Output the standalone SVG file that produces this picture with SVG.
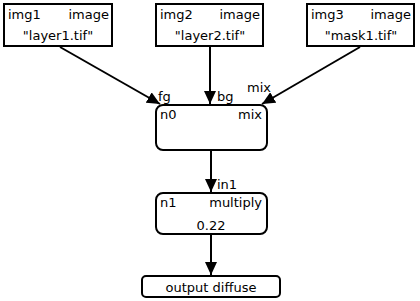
<svg xmlns="http://www.w3.org/2000/svg" width="420" height="301" viewBox="0 0 420 301">
  <style>
    .box { fill: #ffffff; stroke: #000000; stroke-width: 2; }
    .t { font-family: "DejaVu Sans", "Liberation Sans", sans-serif; font-size: 13px; fill: #000000; }
    .mid { text-anchor: middle; }
    .end { text-anchor: end; }
    .edge { stroke: #000000; stroke-width: 2; fill: none; marker-end: url(#arrow); }
  </style>
  <defs>
    <marker id="arrow" markerUnits="userSpaceOnUse" markerWidth="14" markerHeight="12" refX="13" refY="6" orient="auto">
      <path d="M0,0 L13,6 L0,12 Z" fill="#000000"/>
    </marker>
  </defs>
  <rect width="420" height="301" fill="#ffffff"/>

  <g id="connectors">
    <line class="edge" x1="60" y1="47" x2="160" y2="104"/>
    <line class="edge" x1="210" y1="47" x2="210" y2="104"/>
    <line class="edge" x1="360" y1="47" x2="262" y2="104"/>
    <line class="edge" x1="211" y1="150" x2="211" y2="192"/>
    <line class="edge" x1="211" y1="234" x2="211" y2="275"/>
    <text class="t" x="158" y="101">fg</text>
    <text class="t" x="217" y="101">bg</text>
    <text class="t" x="247" y="92">mix</text>
    <text class="t" x="217" y="189">in1</text>
  </g>

  <g id="img1">
    <rect class="box" x="4" y="4" width="108" height="42"/>
    <text class="t" x="8" y="19">img1</text>
    <text class="t end" x="109" y="19">image</text>
    <text class="t mid" x="58" y="40">"layer1.tif"</text>
  </g>

  <g id="img2">
    <rect class="box" x="156" y="4" width="107" height="42"/>
    <text class="t" x="160" y="19">img2</text>
    <text class="t end" x="260" y="19">image</text>
    <text class="t mid" x="210" y="40">"layer2.tif"</text>
  </g>

  <g id="img3">
    <rect class="box" x="307" y="4" width="107" height="42"/>
    <text class="t" x="311" y="19">img3</text>
    <text class="t end" x="411" y="19">image</text>
    <text class="t mid" x="361" y="40">"mask1.tif"</text>
  </g>

  <g id="n0">
    <rect class="box" x="156" y="105" width="111" height="45" rx="7" ry="7"/>
    <text class="t" x="160" y="119">n0</text>
    <text class="t end" x="262" y="119">mix</text>
  </g>

  <g id="n1">
    <rect class="box" x="156" y="193" width="111" height="41" rx="7" ry="7"/>
    <text class="t" x="160" y="207">n1</text>
    <text class="t end" x="262" y="207">multiply</text>
    <text class="t mid" x="211" y="230">0.22</text>
  </g>

  <g id="output">
    <rect class="box" x="142" y="276" width="138" height="21" rx="4" ry="4"/>
    <text class="t mid" x="211" y="292">output diffuse</text>
  </g>
</svg>
